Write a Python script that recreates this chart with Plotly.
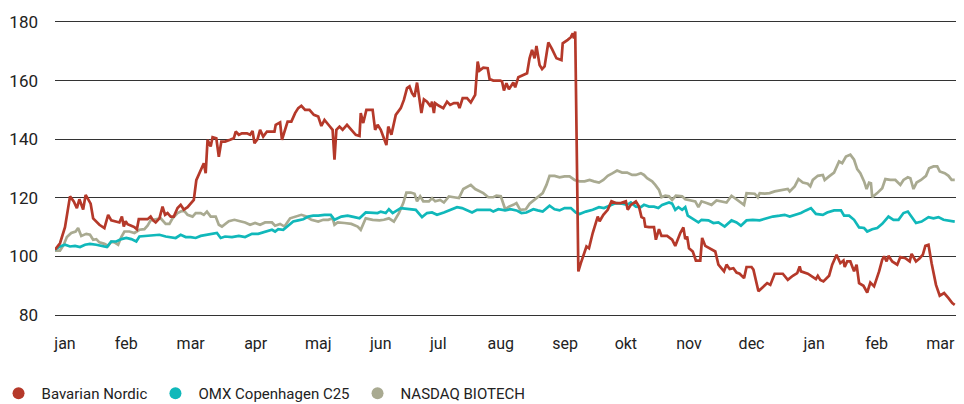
import plotly.graph_objects as go

# x = time in months since the start of the period, y = index (start = ~100)
month_pos = [0.16, 1.14, 2.17, 3.21, 4.21, 5.21, 6.13, 7.13, 8.16, 9.13, 10.14, 11.14, 12.14, 13.14, 14.16]
month_labels = ["jan", "feb", "mar", "apr", "maj", "jun", "jul", "aug", "sep", "okt", "nov", "dec", "jan", "feb", "mar"]
y_ticks = [80, 100, 120, 140, 160, 180]

bavarian_nordic = [
    (0.00, 102.3), (0.08, 104.5), (0.16, 110.0), (0.24, 120.5), (0.30, 118.8), (0.35, 116.5), (0.39, 119.5),
    (0.42, 117.6), (0.45, 116.0), (0.49, 121.0), (0.53, 119.3), (0.57, 118.0), (0.61, 113.0), (0.66, 112.0),
    (0.71, 110.8), (0.79, 109.7), (0.85, 114.2), (0.90, 112.3), (0.98, 112.0), (1.03, 111.6), (1.07, 113.6),
    (1.10, 110.2), (1.13, 112.0), (1.16, 111.0), (1.22, 110.5), (1.27, 110.0), (1.31, 109.3), (1.34, 112.7),
    (1.40, 112.7), (1.48, 112.7), (1.53, 113.6), (1.57, 112.3), (1.61, 111.6), (1.67, 113.0), (1.72, 117.0),
    (1.76, 114.2), (1.80, 114.8), (1.85, 113.6), (1.90, 113.6), (1.96, 116.5), (2.01, 117.6), (2.06, 116.0),
    (2.12, 116.8), (2.17, 118.0), (2.22, 119.3), (2.26, 126.0), (2.33, 129.5), (2.38, 131.8), (2.41, 128.4),
    (2.44, 139.8), (2.49, 137.5), (2.52, 140.7), (2.58, 140.3), (2.62, 134.0), (2.66, 139.2), (2.72, 139.2),
    (2.80, 139.8), (2.86, 140.3), (2.89, 142.6), (2.94, 141.5), (2.99, 142.0), (3.07, 142.0), (3.12, 141.5),
    (3.16, 142.8), (3.19, 138.6), (3.24, 140.0), (3.28, 143.2), (3.33, 140.9), (3.39, 142.6), (3.44, 142.6),
    (3.51, 142.6), (3.53, 144.9), (3.60, 145.7), (3.63, 139.8), (3.68, 143.2), (3.72, 146.0), (3.78, 146.0),
    (3.84, 148.9), (3.89, 150.6), (3.94, 151.4), (4.00, 150.0), (4.07, 150.0), (4.14, 148.3),
    (4.21, 147.7), (4.26, 144.5), (4.31, 146.6), (4.39, 144.5), (4.44, 143.2), (4.47, 133.0), (4.50, 143.2),
    (4.55, 144.3), (4.60, 143.2), (4.67, 144.9), (4.74, 143.2), (4.81, 141.5), (4.87, 141.1), (4.89, 148.9),
    (4.93, 145.5), (4.98, 150.0), (5.08, 150.0), (5.12, 143.2), (5.16, 144.9), (5.21, 143.2), (5.26, 140.3),
    (5.30, 138.0), (5.33, 144.3), (5.38, 141.5), (5.45, 148.3), (5.53, 150.6), (5.58, 153.4), (5.63, 157.4),
    (5.67, 158.0), (5.71, 155.7), (5.75, 154.5), (5.79, 159.3), (5.83, 153.4), (5.86, 148.9), (5.90, 153.6),
    (5.95, 152.8), (6.01, 151.1), (6.03, 152.8), (6.06, 148.9), (6.08, 152.3), (6.14, 151.4), (6.21, 150.6),
    (6.27, 152.8), (6.32, 151.7), (6.38, 152.3), (6.44, 152.3), (6.47, 150.6), (6.52, 154.0), (6.59, 154.0),
    (6.65, 152.5), (6.72, 155.1), (6.76, 166.5), (6.79, 163.4), (6.85, 164.4), (6.92, 164.2), (6.95, 160.5),
    (7.01, 160.0), (7.12, 160.0), (7.15, 159.7), (7.18, 156.6), (7.22, 159.1), (7.26, 157.0), (7.33, 159.3),
    (7.36, 157.7), (7.41, 161.1), (7.46, 161.6), (7.55, 162.5), (7.59, 167.6), (7.63, 170.5), (7.67, 167.6),
    (7.70, 171.8), (7.75, 165.3), (7.79, 163.9), (7.83, 164.8), (7.89, 173.0), (7.95, 170.7), (8.02, 167.6),
    (8.10, 167.0), (8.12, 172.7), (8.20, 173.9), (8.25, 174.8), (8.28, 176.1), (8.30, 174.4), (8.32, 176.7),
    (8.37, 94.9), (8.41, 97.7), (8.47, 101.7), (8.50, 103.4), (8.54, 102.8), (8.60, 108.0), (8.68, 113.6),
    (8.71, 112.0), (8.77, 114.2), (8.84, 115.9), (8.90, 118.8), (8.97, 118.2), (9.05, 118.2), (9.13, 118.8),
    (9.16, 115.9), (9.21, 117.6),
    (9.29, 118.8), (9.34, 117.0), (9.38, 113.4), (9.42, 113.0), (9.44, 110.2), (9.50, 110.0), (9.58, 110.0),
    (9.61, 105.7), (9.66, 109.3), (9.70, 107.0), (9.79, 107.0), (9.87, 105.7), (9.92, 103.6), (10.00, 108.0),
    (10.05, 109.9), (10.08, 105.9), (10.11, 106.8), (10.14, 102.8), (10.20, 101.7), (10.25, 98.6), (10.32, 98.6),
    (10.35, 106.3), (10.40, 103.6), (10.50, 102.5), (10.56, 101.7), (10.61, 97.2), (10.66, 96.0), (10.70, 94.9),
    (10.74, 97.2), (10.79, 95.7), (10.85, 96.0), (10.90, 94.5), (10.95, 94.1), (11.02, 92.6), (11.06, 96.4),
    (11.14, 96.4), (11.17, 95.5), (11.22, 90.3), (11.25, 88.1), (11.32, 89.5), (11.39, 90.9), (11.44, 90.3),
    (11.51, 94.1), (11.64, 94.1), (11.72, 92.0), (11.80, 93.4), (11.87, 94.3), (11.91, 96.6), (11.93, 94.9),
    (12.04, 94.1), (12.12, 93.0), (12.17, 92.3), (12.20, 93.4), (12.24, 92.0), (12.29, 91.5), (12.38, 93.4),
    (12.43, 97.2), (12.50, 100.6), (12.56, 97.7), (12.61, 98.6), (12.63, 96.4), (12.67, 98.3), (12.72, 98.3),
    (12.78, 94.9), (12.82, 97.2), (12.86, 90.9), (12.93, 90.0), (12.99, 87.7), (13.04, 91.1), (13.10, 89.8),
    (13.18, 94.9), (13.23, 98.9), (13.26, 100.0), (13.30, 98.3), (13.33, 100.2), (13.39, 98.3), (13.47, 97.2),
    (13.52, 99.8), (13.60, 99.4), (13.67, 98.3), (13.70, 100.9), (13.77, 98.3), (13.83, 99.4), (13.88, 100.6),
    (13.92, 103.6), (13.97, 104.0), (14.02, 97.7), (14.09, 90.3), (14.15, 86.6), (14.22, 87.5), (14.29, 85.8),
    (14.35, 84.1), (14.39, 83.5),
]

omx_c25 = [
    (0.00, 102.3), (0.08, 103.4), (0.16, 104.0), (0.24, 103.4), (0.32, 103.6), (0.40, 103.2), (0.48, 104.0),
    (0.56, 104.3), (0.66, 104.0), (0.77, 103.6), (0.83, 103.2), (0.90, 105.1), (0.98, 105.1), (1.06, 105.9),
    (1.14, 106.3), (1.22, 105.9), (1.30, 105.1), (1.35, 106.8), (1.46, 107.0), (1.56, 107.4), (1.67, 107.4),
    (1.77, 106.8), (1.85, 106.6), (1.93, 106.3), (2.01, 107.4), (2.09, 106.6), (2.17, 106.6), (2.25, 106.3),
    (2.33, 107.0), (2.43, 107.4), (2.54, 108.0), (2.59, 108.0), (2.65, 106.3), (2.72, 106.8), (2.83, 106.6),
    (2.94, 107.0), (3.04, 106.6), (3.15, 107.7), (3.25, 107.7), (3.36, 108.5), (3.47, 109.1), (3.52, 108.5),
    (3.57, 109.3), (3.65, 109.1), (3.73, 110.5), (3.81, 111.9), (3.89, 112.3), (3.97, 112.7), (4.05, 113.6),
    (4.13, 113.9),
    (4.21, 113.9), (4.31, 114.2), (4.41, 114.2), (4.47, 112.5), (4.58, 113.6), (4.68, 113.9), (4.79, 113.4),
    (4.87, 113.0), (4.97, 115.0), (5.08, 115.0), (5.16, 114.8), (5.21, 115.3), (5.29, 114.8), (5.34, 116.1),
    (5.40, 114.8), (5.53, 116.5), (5.66, 116.1), (5.77, 115.9), (5.87, 113.4), (5.95, 114.8), (6.03, 115.0),
    (6.11, 114.2), (6.22, 115.0), (6.32, 115.9), (6.43, 116.8), (6.51, 116.5), (6.59, 115.7), (6.67, 115.0),
    (6.75, 115.9), (6.85, 115.9), (6.96, 115.9), (7.01, 115.3), (7.09, 116.1), (7.20, 115.7), (7.28, 116.1),
    (7.38, 115.7), (7.46, 114.8), (7.54, 115.0), (7.65, 116.1), (7.72, 115.7), (7.80, 115.3), (7.91, 117.3),
    (7.99, 116.1), (8.07, 115.7), (8.15, 116.5), (8.25, 116.5), (8.33, 115.0), (8.39, 114.5), (8.49, 115.3),
    (8.60, 115.9), (8.70, 116.8), (8.78, 116.5), (8.86, 117.3), (8.97, 118.2), (9.07, 118.0), (9.15, 117.6),
    (9.21, 118.4),
    (9.29, 117.0), (9.37, 116.8), (9.42, 117.6), (9.50, 117.0), (9.58, 117.0), (9.65, 116.5), (9.71, 117.6),
    (9.82, 118.4), (9.87, 118.0), (9.92, 115.9), (9.97, 116.8), (10.03, 115.9), (10.08, 116.8), (10.12, 113.9),
    (10.21, 112.7), (10.29, 111.6), (10.34, 112.5), (10.45, 112.3), (10.53, 111.4), (10.61, 111.6), (10.71, 110.2),
    (10.82, 112.3), (10.90, 111.6), (10.97, 110.5), (11.06, 112.3), (11.16, 112.5), (11.27, 112.3), (11.38, 113.0),
    (11.48, 113.6), (11.59, 113.9), (11.67, 114.2), (11.75, 113.6), (11.85, 114.2), (11.93, 114.8), (12.01, 115.7),
    (12.09, 116.5), (12.17, 114.5), (12.28, 114.2), (12.35, 115.0), (12.46, 115.7), (12.57, 115.7), (12.62, 113.9),
    (12.70, 113.9), (12.78, 112.5), (12.86, 109.9), (12.94, 109.7), (12.99, 108.5), (13.07, 109.3), (13.15, 109.7),
    (13.23, 111.1), (13.33, 113.6), (13.41, 112.5), (13.49, 112.5), (13.57, 114.8), (13.64, 115.3), (13.70, 113.6),
    (13.77, 111.4), (13.86, 111.9), (13.97, 113.4), (14.05, 113.0), (14.13, 113.4), (14.21, 112.5), (14.31, 112.3),
    (14.39, 111.9),
]

nasdaq_biotech = [
    (0.00, 102.0), (0.08, 102.0), (0.14, 104.0), (0.19, 106.6), (0.26, 108.0), (0.33, 108.5), (0.37, 109.7),
    (0.42, 107.0), (0.50, 107.7), (0.56, 107.4), (0.61, 105.7), (0.66, 105.9), (0.71, 104.8), (0.79, 104.3),
    (0.85, 103.6), (0.90, 105.1), (0.95, 104.8), (1.01, 104.0), (1.06, 106.6), (1.11, 108.5), (1.19, 108.5),
    (1.27, 108.0), (1.35, 109.1), (1.43, 109.3), (1.48, 110.5), (1.53, 112.3), (1.61, 112.7), (1.69, 113.0),
    (1.77, 111.1), (1.83, 111.1), (1.88, 113.0), (1.96, 114.8), (2.01, 115.3), (2.06, 115.7), (2.12, 114.2),
    (2.20, 113.6), (2.25, 114.8), (2.33, 114.8), (2.38, 114.2), (2.43, 115.3), (2.49, 113.6), (2.57, 113.6),
    (2.62, 110.8), (2.67, 110.2), (2.78, 112.0), (2.87, 112.5), (2.96, 112.0), (3.04, 111.6), (3.12, 110.8),
    (3.20, 111.4), (3.28, 110.8), (3.36, 111.6), (3.47, 111.6), (3.52, 110.5), (3.60, 111.1), (3.67, 110.2),
    (3.76, 113.0), (3.84, 113.6), (3.94, 114.2), (4.02, 113.6), (4.10, 112.5),
    (4.21, 111.9), (4.29, 112.5), (4.37, 112.5), (4.44, 113.0), (4.47, 110.8), (4.52, 111.6), (4.63, 111.4),
    (4.74, 111.1), (4.84, 110.2), (4.89, 109.1), (4.97, 113.0), (5.08, 112.5), (5.19, 112.3), (5.26, 112.5),
    (5.34, 113.0), (5.42, 111.9), (5.50, 114.8), (5.57, 118.2), (5.62, 121.8), (5.69, 121.8), (5.75, 121.4),
    (5.79, 118.8), (5.84, 120.5), (5.89, 118.8), (5.98, 118.8), (6.03, 119.9), (6.08, 118.8), (6.16, 119.3),
    (6.22, 118.4), (6.30, 120.5), (6.38, 120.2), (6.46, 119.9), (6.53, 123.0), (6.60, 123.9), (6.65, 124.4),
    (6.72, 123.0), (6.77, 122.5), (6.85, 121.6), (6.93, 120.2), (7.01, 120.2), (7.06, 120.7), (7.13, 120.5),
    (7.20, 116.1), (7.26, 117.0), (7.33, 117.6), (7.38, 118.2), (7.44, 115.9), (7.53, 116.1), (7.59, 118.0),
    (7.67, 119.3), (7.72, 120.2), (7.80, 121.6), (7.86, 124.4), (7.91, 127.5), (7.99, 127.5), (8.07, 127.0),
    (8.15, 127.3), (8.23, 127.3), (8.31, 126.1), (8.39, 125.6), (8.47, 125.6), (8.55, 126.1), (8.62, 125.6),
    (8.70, 125.2), (8.77, 126.1), (8.84, 127.5), (8.92, 128.4), (8.99, 129.3), (9.07, 128.6), (9.15, 128.6),
    (9.23, 127.8),
    (9.29, 127.8), (9.37, 128.4), (9.42, 127.8), (9.47, 126.7), (9.55, 125.6), (9.60, 124.4), (9.66, 122.7),
    (9.70, 120.2), (9.76, 120.7), (9.82, 120.5), (9.87, 119.3), (9.93, 120.7), (10.03, 120.5), (10.08, 119.5),
    (10.16, 119.1), (10.24, 118.8), (10.29, 116.8), (10.34, 118.8), (10.42, 118.2), (10.50, 117.6), (10.58, 119.1),
    (10.66, 118.8), (10.74, 118.4), (10.82, 120.7), (10.87, 119.9), (10.95, 118.8), (11.02, 117.6), (11.06, 121.6),
    (11.14, 121.6), (11.19, 121.4), (11.24, 120.2), (11.27, 121.6), (11.35, 121.4), (11.43, 121.6), (11.51, 122.2),
    (11.61, 122.5), (11.72, 123.0), (11.75, 122.2), (11.83, 123.9), (11.89, 126.4), (11.96, 125.2), (12.04, 124.8),
    (12.08, 123.9), (12.12, 126.1), (12.20, 127.5), (12.28, 127.8), (12.31, 126.1), (12.38, 127.3), (12.46, 128.6),
    (12.54, 132.4), (12.59, 131.8), (12.65, 134.1), (12.72, 134.7), (12.78, 133.0), (12.83, 129.8), (12.88, 128.4),
    (12.94, 125.6), (12.98, 123.0), (13.02, 125.2), (13.05, 125.0), (13.07, 120.2), (13.15, 121.6), (13.23, 123.3),
    (13.28, 126.4), (13.36, 126.1), (13.44, 126.1), (13.52, 124.4), (13.57, 126.1), (13.64, 127.0), (13.68, 126.7),
    (13.73, 123.0), (13.78, 125.2), (13.85, 126.1), (13.93, 127.5), (13.98, 130.1), (14.05, 130.7), (14.11, 130.7),
    (14.15, 129.0), (14.23, 128.4), (14.29, 127.5), (14.34, 126.1), (14.39, 126.1),
]

series_names = ["Bavarian Nordic", "OMX Copenhagen C25", "NASDAQ BIOTECH"]
series_data = [bavarian_nordic, omx_c25, nasdaq_biotech]
series_colors = ["#B5392A", "#10B8BA", "#A9AA91"]

FONT = "Roboto, Lato, 'Noto Sans', sans-serif"
TEXT_COLOR = "#222222"

fig = go.Figure()

# lines (drawn back to front: NASDAQ, C25, Bavarian Nordic)
for name, data, color in reversed(list(zip(series_names, series_data, series_colors))):
    fig.add_trace(go.Scatter(
        x=[p[0] for p in data], y=[p[1] for p in data], mode="lines", name=name,
        line=dict(color=color, width=2.7), showlegend=False, hoverinfo="skip",
    ))

# legend entries with round markers
for name, color in zip(series_names, series_colors):
    fig.add_trace(go.Scatter(
        x=[None], y=[None], mode="markers", name=name,
        marker=dict(color=color, size=12, symbol="circle"), showlegend=True,
    ))

# the page body adds an 8 px margin and the window shows ~956 px of width,
# so the figure is sized to stay fully visible
fig.update_layout(
    width=948, height=396,
    margin=dict(l=47, r=0, t=11, b=86, autoexpand=False),
    paper_bgcolor="white", plot_bgcolor="white",
    font=dict(family=FONT, size=16, color=TEXT_COLOR),
    showlegend=True,
    legend=dict(
        orientation="h", x=-0.066, xanchor="left", y=-0.197, yanchor="top",
        font=dict(family=FONT, size=15, color=TEXT_COLOR),
        itemwidth=36, traceorder="normal", bgcolor="rgba(0,0,0,0)",
    ),
    xaxis=dict(
        range=[0, 14.41], showgrid=False, zeroline=False, showline=False,
        tickmode="array", tickvals=month_pos, ticktext=month_labels,
        ticks="", ticklabelstandoff=14, tickfont=dict(size=16),
        automargin=False,
    ),
    yaxis=dict(
        range=[79, 181], tickmode="array", tickvals=y_ticks,
        showgrid=True, gridcolor="#333333", gridwidth=1,
        zeroline=False, showline=False, ticks="", ticklabelstandoff=16,
        tickfont=dict(size=17), automargin=False,
    ),
)

fig.write_html("out.html")
